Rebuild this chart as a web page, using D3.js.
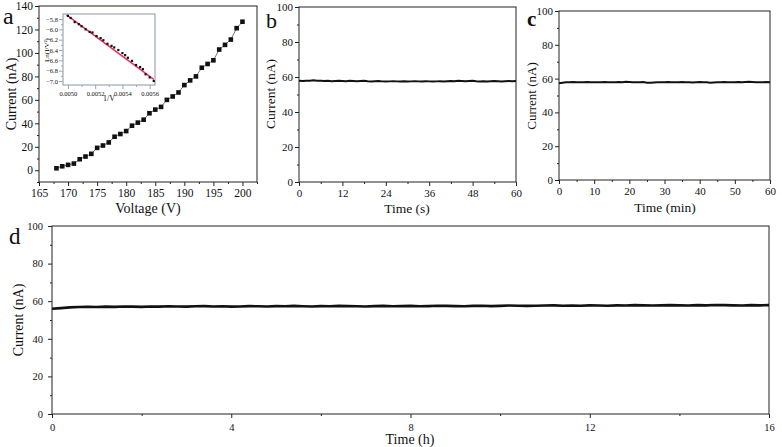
<!DOCTYPE html>
<html>
<head>
<meta charset="utf-8">
<script src="https://cdn.jsdelivr.net/npm/d3@7"></script>
<style>
  body { margin: 0; background: #fff; }
  svg text { font-family: "Times New Roman", "Liberation Serif", Times, serif; fill: #111; }
</style>
</head>
<body>
<div id="chart"></div>
<script>
/*  Data  */
var voltage = [168,169,170,171,172,173,174,175,176,177,178,179,180,181,182,183,184,
               185,186,187,188,189,190,191,192,193,194,195,196,197,198,199,200];
var currentA = [1.7,3.4,4.6,5.7,9.4,11.7,14,19.1,21.1,23.7,28.6,30.9,33.4,38,40.6,43.1,48.6,
                51.7,54,60,62.9,66.3,72.6,76.6,80,87.4,90.6,93.7,102.9,106.9,111.4,121.1,126.6];

var invV = [0.00500,0.00502,0.00505,0.00508,0.00510,0.00513,0.00516,0.00518,0.00521,0.00524,
            0.00526,0.00529,0.00532,0.00534,0.00537,0.00540,0.00542,0.00544,0.00547,0.00550,
            0.00553,0.00555,0.00557,0.00560,0.00563];
var lnIV2 = [-5.74,-5.78,-5.86,-5.90,-5.94,-6.00,-6.05,-6.06,-6.13,-6.17,
             -6.21,-6.28,-6.32,-6.35,-6.40,-6.46,-6.50,-6.55,-6.61,-6.69,
             -6.73,-6.77,-6.87,-6.93,-7.00];
var fitX = [0.00499, 0.00563];
var fitY = [-5.72, -6.97];

// panel b: one reading per second, 0..60 s
var currentB = [57.8,57.7,57.9,57.8,58.1,57.9,57.8,57.7,57.8,57.6,
                57.7,57.8,57.7,57.6,57.8,57.7,57.6,57.7,57.8,57.6,
                57.5,57.6,57.7,57.5,57.4,57.5,57.6,57.5,57.4,57.5,
                57.4,57.5,57.6,57.5,57.4,57.6,57.5,57.4,57.5,57.6,
                57.5,57.6,57.7,57.6,57.8,57.7,57.6,57.7,57.8,57.6,
                57.5,57.6,57.5,57.6,57.7,57.6,57.5,57.6,57.7,57.6,
                57.7];
// panel c: one reading per minute, 0..60 min
var currentC = [57.2,57.6,57.8,57.9,58.0,57.9,57.8,57.9,58.0,57.8,
                57.9,57.8,57.9,58.0,57.9,57.8,57.9,58.0,57.9,58.1,
                58.0,57.9,57.8,57.9,58.0,57.6,57.5,57.7,57.8,57.9,
                57.9,58.0,57.9,57.8,57.9,58.0,57.9,57.8,57.7,57.9,
                58.0,57.9,57.8,57.5,57.7,57.8,57.9,58.0,57.9,57.8,
                57.9,58.0,57.9,58.0,58.1,58.0,57.9,57.8,57.9,58.0,
                57.9];
// panel d: one reading every 0.2 h, 0..16 h
var currentD = [56.0,56.3,56.7,56.9,57.0,56.9,57.1,57.0,57.2,57.1,
                57.0,57.2,57.1,57.3,57.2,57.1,57.3,57.4,57.2,57.3,
                57.1,57.2,57.4,57.3,57.2,57.4,57.3,57.5,57.3,57.2,
                57.4,57.3,57.5,57.4,57.3,57.2,57.4,57.5,57.3,57.4,
                57.5,57.3,57.4,57.6,57.5,57.4,57.3,57.5,57.6,57.4,
                57.5,57.7,57.6,57.5,57.6,57.7,57.8,57.6,57.7,57.6,
                57.8,57.7,57.6,57.8,57.7,57.9,57.8,57.7,57.8,57.9,
                57.8,57.7,57.9,57.8,58.0,57.9,57.8,57.7,57.9,57.8,
                57.9];

var ticksA_x = [165,170,175,180,185,190,195,200];
var ticksA_y = [0,20,40,60,80,100,120,140];
var ticksB_x = [0,12,24,36,48,60];
var ticksC_x = [0,10,20,30,40,50,60];
var ticksD_x = [0,4,8,12,16];
var ticksCurrent = [0,20,40,60,80,100];
var ticksInset_x = [0.0050,0.0052,0.0054,0.0056];
var ticksInset_y = [-5.8,-6.0,-6.2,-6.4,-6.6,-6.8,-7.0];

var SERIF = "'Times New Roman', 'Liberation Serif', Times, serif";
var W = 782, H = 447;
var svg = d3.select("#chart").append("svg")
            .attr("width", W).attr("height", H);

function midpoints(arr){
  var out = [];
  for (var i = 0; i < arr.length - 1; i++) out.push((arr[i] + arr[i+1]) / 2);
  return out;
}

/*  draws a framed panel with outward ticks, returns scales  */
function Panel(o)
{
  var x = d3.scaleLinear().domain(o.xd).range([o.l, o.r]);
  var y = d3.scaleLinear().domain(o.yd).range([o.b, o.t]);
  var g = svg.append("g");
  var pad = o.pad || 2;

  g.append("g").attr("transform", "translate(0," + o.b + ")")
   .call(d3.axisBottom(x).tickValues(o.xt).tickSize(4).tickPadding(pad + 1)
         .tickFormat(o.xf || d3.format("d")));
  g.append("g").attr("transform", "translate(0," + o.b + ")")
   .call(d3.axisBottom(x).tickValues(o.xm).tickSize(2).tickFormat(""));
  g.append("g").attr("transform", "translate(" + o.l + ",0)")
   .call(d3.axisLeft(y).tickValues(o.yt).tickSize(4).tickPadding(pad)
         .tickFormat(o.yf || d3.format("d")));
  g.append("g").attr("transform", "translate(" + o.l + ",0)")
   .call(d3.axisLeft(y).tickValues(o.ym).tickSize(2).tickFormat(""));

  g.selectAll(".domain").remove();
  g.selectAll(".tick line").attr("stroke", o.col || "#222").attr("stroke-width", o.sw || 1);
  g.selectAll(".tick text").style("font-size", o.fs + "px")
   .style("font-family", SERIF).attr("fill", "#111");

  g.append("rect").attr("x", o.l).attr("y", o.t)
   .attr("width", o.r - o.l).attr("height", o.b - o.t)
   .attr("fill", "none").attr("stroke", o.col || "#222").attr("stroke-width", o.sw || 1);

  return {x: x, y: y, g: g};
}

function Text(x, y, s, size, extra)
{
  var t = svg.append("text").attr("x", x).attr("y", y)
             .style("font-size", size + "px").text(s);
  if (extra) for (var k in extra) t.attr(k, extra[k]);
  return t;
}

function YTitle(x, y, s, size)
{
  return svg.append("text").attr("transform", "translate(" + x + "," + y + ") rotate(-90)")
            .attr("text-anchor", "middle").style("font-size", size + "px").text(s);
}

/*  panel a  */
var pa = Panel({l: 39, t: 6, r: 257, b: 182, xd: [165, 202.5], yd: [-10, 140],
                xt: ticksA_x, xm: midpoints(ticksA_x).concat([202.5]),
                yt: ticksA_y, ym: midpoints(ticksA_y).concat([-10]), fs: 11.5});
var lineA = d3.line().x(function(d, i){ return pa.x(voltage[i]); })
                     .y(function(d){ return pa.y(d); });
pa.g.append("path").attr("d", lineA(currentA)).attr("fill", "none")
    .attr("stroke", "#555").attr("stroke-width", 0.8);
pa.g.selectAll(".sq").data(currentA).enter().append("rect")
    .attr("x", function(d, i){ return pa.x(voltage[i]) - 2.3; })
    .attr("y", function(d){ return pa.y(d) - 2.3; })
    .attr("width", 4.6).attr("height", 4.6).attr("fill", "#111");
Text(3, 24, "a", 24);
YTitle(16, 94, "Current (nA)", 14);
Text(148, 213, "Voltage (V)", 14, {"text-anchor": "middle"});

/*  inset of panel a  */
var pin = Panel({l: 63, t: 14, r: 155, b: 85, xd: [0.004964, 0.005639], yd: [-7.077, -5.703],
                 xt: ticksInset_x, xm: midpoints(ticksInset_x),
                 yt: ticksInset_y, ym: midpoints(ticksInset_y),
                 xf: d3.format(".4f"), yf: function(d){ return d3.format(".1f")(d); },
                 fs: 6.5, col: "#9aa8b6", sw: 1.2, pad: 1});
pin.g.selectAll(".tick line").attr("stroke", "#666").attr("stroke-width", 0.6);
var fit = d3.line().x(function(d, i){ return pin.x(fitX[i]); })
                   .y(function(d){ return pin.y(d); });
pin.g.append("path").attr("d", fit(fitY)).attr("fill", "none")
     .attr("stroke", "#e8315f").attr("stroke-width", 1.5);
pin.g.selectAll(".pt").data(lnIV2).enter().append("rect")
     .attr("x", function(d, i){ return pin.x(invV[i]) - 1.1; })
     .attr("y", function(d){ return pin.y(d) - 1.1; })
     .attr("width", 2.2).attr("height", 2.2).attr("fill", "#111");
YTitle(49, 50, "Ln(I/V\u00B2)", 7);
Text(109, 101, "1/V", 8, {"text-anchor": "middle"});

/*  panel b  */
var pb = Panel({l: 299, t: 7, r: 516, b: 182, xd: [0, 60], yd: [0, 100],
                xt: ticksB_x, xm: midpoints(ticksB_x),
                yt: ticksCurrent, ym: midpoints(ticksCurrent), fs: 11});
var lineB = d3.line().x(function(d, i){ return pb.x(i); })
                     .y(function(d){ return pb.y(d); });
pb.g.append("path").attr("d", lineB(currentB)).attr("fill", "none")
    .attr("stroke", "#111").attr("stroke-width", 2);
Text(266, 28, "b", 22);
YTitle(275, 94, "Current (nA)", 13.5);
Text(407, 213, "Time (s)", 13.5, {"text-anchor": "middle"});

/*  panel c  */
var pc = Panel({l: 559, t: 11, r: 770, b: 180, xd: [0, 60], yd: [0, 100],
                xt: ticksC_x, xm: midpoints(ticksC_x),
                yt: ticksCurrent, ym: midpoints(ticksCurrent), fs: 11});
var lineC = d3.line().x(function(d, i){ return pc.x(i); })
                     .y(function(d){ return pc.y(d); });
pc.g.append("path").attr("d", lineC(currentC)).attr("fill", "none")
    .attr("stroke", "#111").attr("stroke-width", 2);
Text(527, 26, "c", 21, {"font-weight": "bold"});
YTitle(536, 96, "Current (nA)", 13);
Text(665, 212, "Time (min)", 13.5, {"text-anchor": "middle"});

/*  panel d  */
var pd = Panel({l: 52, t: 226, r: 769, b: 414, xd: [0, 16], yd: [0, 100],
                xt: ticksD_x, xm: midpoints(ticksD_x),
                yt: ticksCurrent, ym: midpoints(ticksCurrent), fs: 10.5, pad: 5});
var lineD = d3.line().x(function(d, i){ return pd.x(i * 16 / (currentD.length - 1)); })
                     .y(function(d){ return pd.y(d); });
pd.g.append("path").attr("d", lineD(currentD)).attr("fill", "none")
    .attr("stroke", "#111").attr("stroke-width", 2.6);
Text(9, 244, "d", 23);
YTitle(23, 320, "Current (nA)", 14);
Text(410, 444, "Time (h)", 14, {"text-anchor": "middle"});
</script>
</body>
</html>
